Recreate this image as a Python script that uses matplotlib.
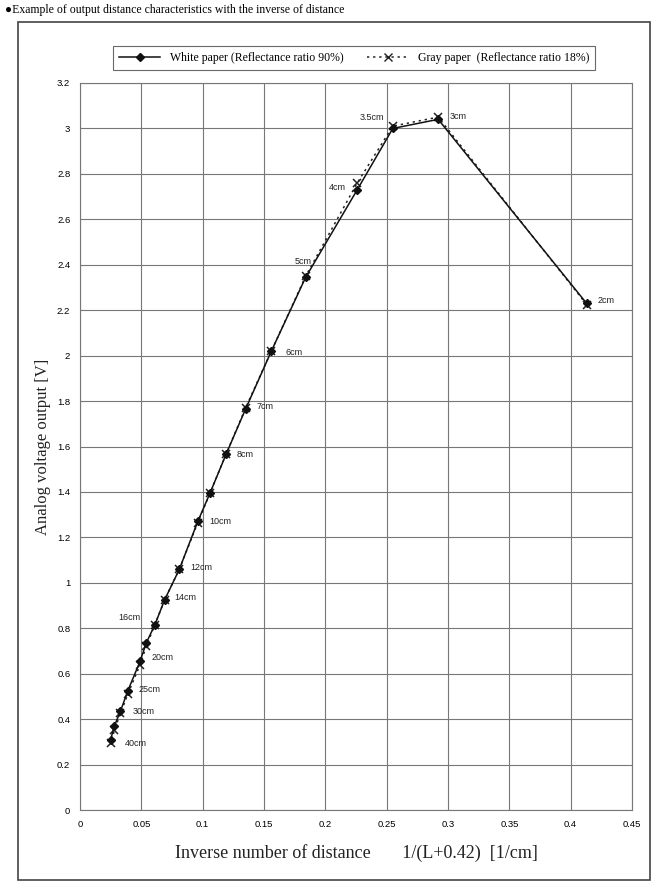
import matplotlib
matplotlib.use('Agg')
import matplotlib.pyplot as plt
from matplotlib.patches import Rectangle
from matplotlib.lines import Line2D

# distance labels and measured points (x = 1/(L+0.42))
dist_labels = ['2cm', '3cm', '3.5cm', '4cm', '5cm', '6cm', '7cm', '8cm', '', '10cm',
               '12cm', '14cm', '16cm', '', '20cm', '25cm', '30cm', '', '40cm']
inv_dist = [0.413, 0.292, 0.255, 0.226, 0.184, 0.156, 0.135, 0.119, 0.106, 0.096,
            0.081, 0.069, 0.061, 0.054, 0.049, 0.039, 0.033, 0.028, 0.025]
white_v = [2.23, 3.04, 3.00, 2.73, 2.345, 2.02, 1.765, 1.565, 1.395, 1.27,
           1.06, 0.925, 0.815, 0.735, 0.655, 0.525, 0.435, 0.37, 0.31]
gray_v = [2.225, 3.05, 3.01, 2.76, 2.35, 2.02, 1.77, 1.565, 1.395, 1.265,
          1.06, 0.925, 0.815, 0.72, 0.64, 0.51, 0.425, 0.35, 0.295]

# label offsets in points (dx, dy, ha)
label_pos = [(8, 2, 'left'), (8, 2, 'left'), (-6, 8, 'right'), (-8, 2, 'right'),
             (-2, 11, 'center'), (10, -1, 'left'), (8, 2, 'left'), (8, 0, 'left'),
             (0, 0, 'left'), (8, 0, 'left'), (8, 1, 'left'), (7, 2, 'left'),
             (-10, 5, 'right'), (0, 0, 'left'), (8, 3, 'left'), (8, 1, 'left'),
             (9, 0, 'left'), (0, 0, 'left'), (10, -3, 'left')]

serif = ['Liberation Serif', 'DejaVu Serif']
sans = ['Liberation Sans', 'DejaVu Sans']

fig = plt.figure(figsize=(6.63, 8.90), dpi=100)
ax = fig.add_axes([80/663, 1-810/890, 552/663, 727/890])

ax.plot(inv_dist, gray_v, ls=(0, (1.5, 2.5)), color='#222222', lw=1.1,
        marker='x', ms=5.5, mew=1.1, zorder=3)
ax.plot(inv_dist, white_v, ls='-', color='#111111', lw=1.1,
        marker='D', ms=4.5, zorder=4)

for x, y, lab, (dx, dy, ha) in zip(inv_dist, white_v, dist_labels, label_pos):
    if lab:
        ax.annotate(lab, (x, y), xytext=(dx, dy), textcoords='offset points',
                    ha=ha, va='center', fontsize=6.5, family=sans, color='#222222')

ax.set_xlim(0, 0.45)
ax.set_ylim(0, 3.2)
ax.set_xticks([i * 0.05 for i in range(10)])
ax.set_yticks([i * 0.2 for i in range(17)])
ax.set_xticklabels(['0', '0.05', '0.1', '0.15', '0.2', '0.25', '0.3', '0.35', '0.4', '0.45'])
ax.set_yticklabels(['0', '0.2', '0.4', '0.6', '0.8', '1', '1.2', '1.4', '1.6', '1.8',
                    '2', '2.2', '2.4', '2.6', '2.8', '3', '3.2'])
for t in ax.get_xticklabels() + ax.get_yticklabels():
    t.set_family(sans)
    t.set_fontsize(6.8)
ax.tick_params(length=0, pad=7)
ax.grid(True, color='#777777', lw=0.8)
ax.set_axisbelow(True)
for s in ax.spines.values():
    s.set_color('#777777')
    s.set_linewidth(0.8)

ax.set_xlabel('Inverse number of distance       1/(L+0.42)  [1/cm]',
              family=serif, fontsize=13, labelpad=11, color='#222222')
ax.set_ylabel('Analog voltage output [V]', family=serif, fontsize=12,
              labelpad=4, color='#222222')

h1 = Line2D([], [], color='#111111', lw=1.1, marker='D', ms=4)
h2 = Line2D([], [], color='#222222', lw=1.1, ls=(0, (1.5, 2.5)), marker='x', ms=5.5)
leg = fig.legend([h1, h2], ['White paper (Reflectance ratio 90%)',
                            'Gray paper  (Reflectance ratio 18%)'],
                 loc='center', bbox_to_anchor=(354/663, 1-58/890), ncol=2,
                 prop={'family': serif, 'size': 8.5}, frameon=True, fancybox=False,
                 handlelength=3.5, columnspacing=2.0, borderpad=0.5)
leg.get_frame().set_edgecolor('#444444')
leg.get_frame().set_linewidth(0.8)

fig.patches.append(Rectangle((18/663, 1-880/890), 632/663, 858/890,
                             transform=fig.transFigure, fill=False,
                             edgecolor='#444444', lw=1.2))
fig.text(5/663, 1-10/890,
         '\u25cfExample of output distance characteristics with the inverse of distance',
         family=['Liberation Serif', 'DejaVu Sans'], fontsize=8.5, va='center', ha='left')

fig.savefig('out.png', dpi=100)
